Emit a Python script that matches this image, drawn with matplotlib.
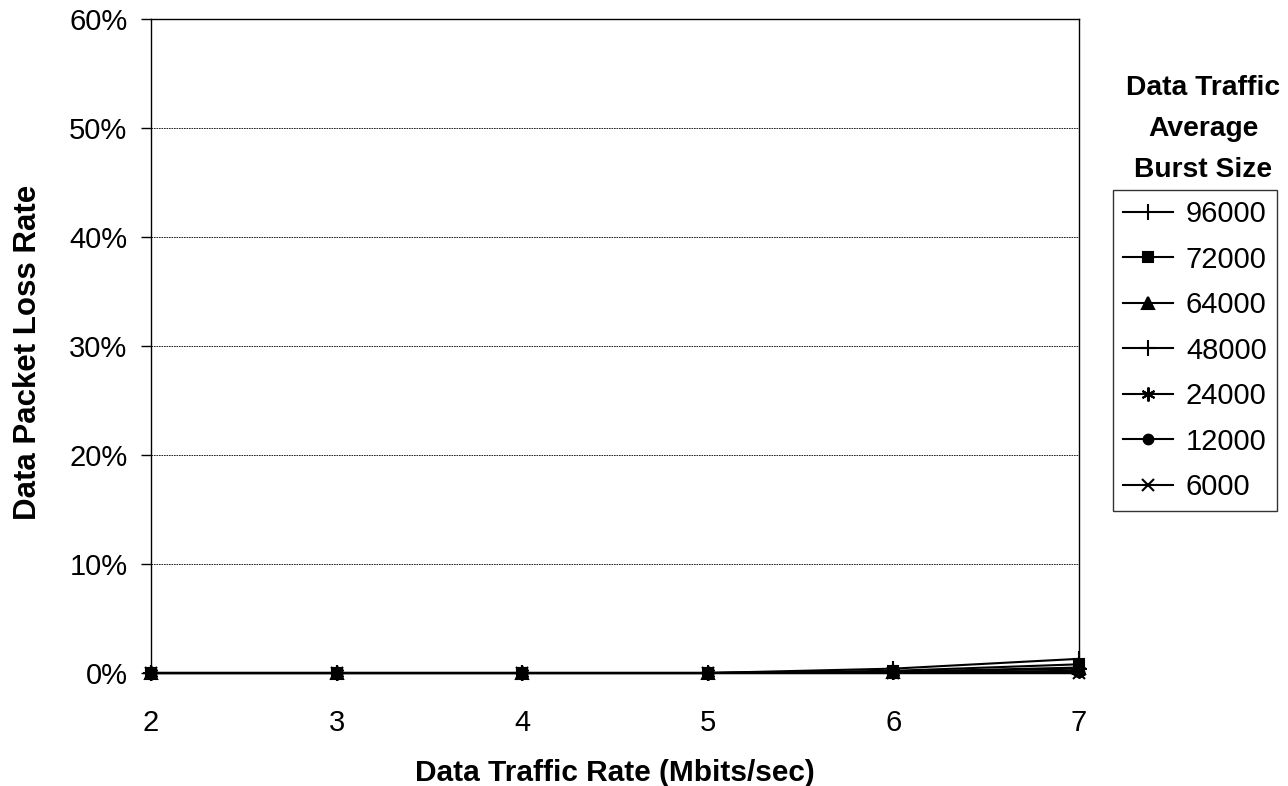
import matplotlib
matplotlib.use("Agg")
import matplotlib.pyplot as plt
from matplotlib.ticker import PercentFormatter

plt.rcParams['font.family'] = ['Liberation Sans', 'DejaVu Sans']

rates = [2, 3, 4, 5, 6, 7]
series_labels = ["96000", "72000", "64000", "48000", "24000", "12000", "6000"]
loss_96000 = [0.0, 0.0, 0.0, 0.0, 0.4, 1.3]
loss_72000 = [0.0, 0.0, 0.0, 0.0, 0.2, 0.8]
loss_64000 = [0.0, 0.0, 0.0, 0.0, 0.1, 0.5]
loss_48000 = [0.0, 0.0, 0.0, 0.0, 0.1, 0.4]
loss_24000 = [0.0, 0.0, 0.0, 0.0, 0.05, 0.2]
loss_12000 = [0.0, 0.0, 0.0, 0.0, 0.0, 0.1]
loss_6000 = [0.0, 0.0, 0.0, 0.0, 0.0, 0.0]
all_series = [loss_96000, loss_72000, loss_64000, loss_48000, loss_24000, loss_12000, loss_6000]
markers = ['|', 's', '^', '+', (6, 2, 0), 'o', 'x']
msizes = [12, 7, 9, 11, 10, 7, 9]

fig = plt.figure(figsize=(12.88, 7.86), dpi=100)
ax = fig.add_axes([151/1288, 1-673/786, (1079-151)/1288, (673-19)/786])

for vals, lab, mk, ms in zip(all_series, series_labels, markers, msizes):
    ax.plot(rates, vals, color='black', lw=1.5, marker=mk, markersize=ms,
            markeredgewidth=1.5, label=lab, clip_on=False)

ax.set_xlim(2, 7)
ax.set_ylim(0, 60)
ax.set_yticks([0, 10, 20, 30, 40, 50, 60])
ax.yaxis.set_major_formatter(PercentFormatter(decimals=0))
ax.set_xticks(rates)
ax.yaxis.grid(True, color='black', linestyle=(0, (2, 1)), linewidth=0.6)
ax.set_axisbelow(True)
for s in ax.spines.values():
    s.set_linewidth(1.0)
    s.set_color('black')
ax.tick_params(axis='y', labelsize=21, length=7, pad=10, width=1)
ax.tick_params(axis='x', labelsize=21, length=0, pad=26)

ax.set_xlabel("Data Traffic Rate (Mbits/sec)", fontsize=21.5, fontweight='bold')
ax.xaxis.set_label_coords(0.5, -(759-673)/654, transform=ax.transAxes)
ax.set_ylabel("Data Packet Loss Rate", fontsize=22.5, fontweight='bold')
ax.yaxis.set_label_coords(-(151-43)/928, (673-352)/654, transform=ax.transAxes)

fig.text(1203/1288, 1-129/786, "Data Traffic\nAverage\nBurst Size", fontsize=20.3,
         fontweight='bold', ha='center', va='center', linespacing=1.75)

leg = ax.legend(loc='upper left', bbox_to_anchor=(1113/1288, 1-190/786),
                bbox_transform=fig.transFigure, fontsize=21, frameon=True,
                fancybox=False, edgecolor='black', handlelength=1.7,
                labelspacing=0.6, handletextpad=0.45, borderpad=0.35,
                borderaxespad=0)
leg.get_frame().set_linewidth(1.0)

fig.savefig("out.png", dpi=100)
